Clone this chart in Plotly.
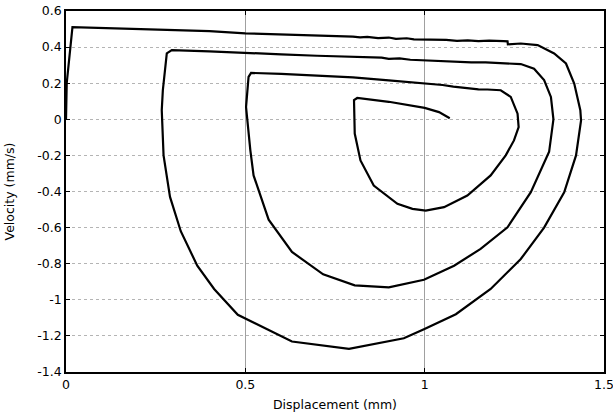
import plotly.graph_objects as go

# Phase-plane trajectory (displacement in mm, velocity in mm/s)
displacement = [
    0.0, 0.002, 0.018,
    0.1, 0.2, 0.3, 0.4, 0.5, 0.6, 0.65, 0.7, 0.75, 0.8, 0.82, 0.84, 0.87, 0.9, 0.92, 0.95, 0.97,
    1.0, 1.03, 1.06, 1.09, 1.12, 1.15, 1.18, 1.22, 1.231, 1.232, 1.268, 1.315, 1.361, 1.394,
    1.417, 1.434, 1.436, 1.422, 1.389, 1.333, 1.268, 1.184, 1.087, 0.998, 0.942, 0.789, 0.630,
    0.479, 0.413, 0.366, 0.32, 0.29, 0.272, 0.267, 0.270, 0.281, 0.295,
    0.4, 0.5, 0.6, 0.7, 0.8, 0.85, 0.88, 0.9, 0.93, 0.96, 1.0, 1.03, 1.06, 1.1, 1.13, 1.17,
    1.2, 1.268, 1.305, 1.333, 1.352, 1.359, 1.347, 1.296, 1.231, 1.156, 1.082, 0.998, 0.9,
    0.805, 0.717, 0.63, 0.565, 0.523, 0.514, 0.505, 0.502, 0.509, 0.516,
    0.6, 0.7, 0.8, 0.9, 0.95, 1.0, 1.05, 1.08, 1.1, 1.13, 1.15, 1.175, 1.212, 1.240, 1.259,
    1.262, 1.249, 1.226, 1.184, 1.119, 1.054, 1.003, 0.966, 0.924, 0.858, 0.821, 0.805, 0.803,
    0.812,
    0.9, 0.95, 1.0, 1.04, 1.07,
]
velocity = [
    0.0, 0.2, 0.51,
    0.506, 0.50, 0.497, 0.488, 0.476, 0.470, 0.468, 0.466, 0.462, 0.458, 0.454, 0.457, 0.450,
    0.453, 0.446, 0.449, 0.443,
    0.442, 0.437, 0.440, 0.434, 0.437, 0.433, 0.436, 0.433, 0.432, 0.415, 0.420, 0.411, 0.365,
    0.309, 0.198, 0.05, -0.006, -0.2, -0.404, -0.6, -0.774, -0.94, -1.08, -1.163, -1.213,
    -1.272, -1.231, -1.083, -0.94, -0.811, -0.62, -0.43, -0.2, 0.05, 0.161, 0.365, 0.383,
    0.376, 0.366, 0.36, 0.352, 0.345, 0.340, 0.342, 0.335, 0.337, 0.330, 0.326, 0.327, 0.320,
    0.320, 0.315, 0.315, 0.311, 0.306, 0.28, 0.217, 0.124, 0.0, -0.18, -0.404, -0.598, -0.718,
    -0.811, -0.889, -0.931, -0.92, -0.859, -0.735, -0.556, -0.311, -0.172, 0.013, 0.068, 0.235,
    0.257,
    0.252, 0.243, 0.232, 0.216, 0.208, 0.200, 0.190, 0.181, 0.176, 0.170, 0.166, 0.165, 0.161,
    0.124, 0.031, -0.043, -0.117, -0.2, -0.311, -0.422, -0.487, -0.506, -0.496, -0.468, -0.367,
    -0.228, -0.079, 0.106, 0.118,
    0.097, 0.082, 0.063, 0.04, 0.006,
]

x_ticks = [0, 0.5, 1, 1.5]
x_tick_labels = ["0", "0.5", "1", "1.5"]
y_ticks = [0.6, 0.4, 0.2, 0, -0.2, -0.4, -0.6, -0.8, -1, -1.2, -1.4]
y_tick_labels = ["0.6", "0.4", "0.2", "0", "-0.2", "-0.4", "-0.6", "-0.8", "-1", "-1.2", "-1.4"]

fig = go.Figure(
    go.Scatter(
        x=displacement,
        y=velocity,
        mode="lines",
        line=dict(color="black", width=2.2),
        showlegend=False,
        hoverinfo="skip",
    )
)

font = dict(family="DejaVu Sans, Arial, sans-serif", size=12.5, color="black")

fig.update_layout(
    width=613,
    height=412,
    margin=dict(l=66, r=9, t=11, b=40),
    paper_bgcolor="white",
    plot_bgcolor="white",
    font=font,
)

fig.update_xaxes(
    range=[0, 1.5],
    tickvals=x_ticks,
    ticktext=x_tick_labels,
    ticks="inside",
    ticklen=4,
    tickcolor="black",
    showline=True,
    linecolor="black",
    linewidth=1.5,
    mirror="all",
    showgrid=True,
    gridcolor="#a0a0a0",
    gridwidth=1,
    zeroline=False,
    automargin=False,
    ticklabeloverflow="allow",
    title=dict(text="Displacement (mm)", standoff=12, font=font),
    tickfont=font,
)

fig.update_yaxes(
    range=[-1.4, 0.6],
    tickvals=y_ticks,
    ticktext=y_tick_labels,
    ticks="inside",
    ticklen=4,
    tickcolor="black",
    showline=True,
    linecolor="black",
    linewidth=1.5,
    mirror="all",
    showgrid=True,
    gridcolor="#b4b4b4",
    gridwidth=1,
    griddash="dot",
    zeroline=False,
    automargin=False,
    ticklabeloverflow="allow",
    title=dict(text="Velocity (mm/s)", standoff=20, font=font),
    tickfont=font,
)

fig.write_html("out.html")
